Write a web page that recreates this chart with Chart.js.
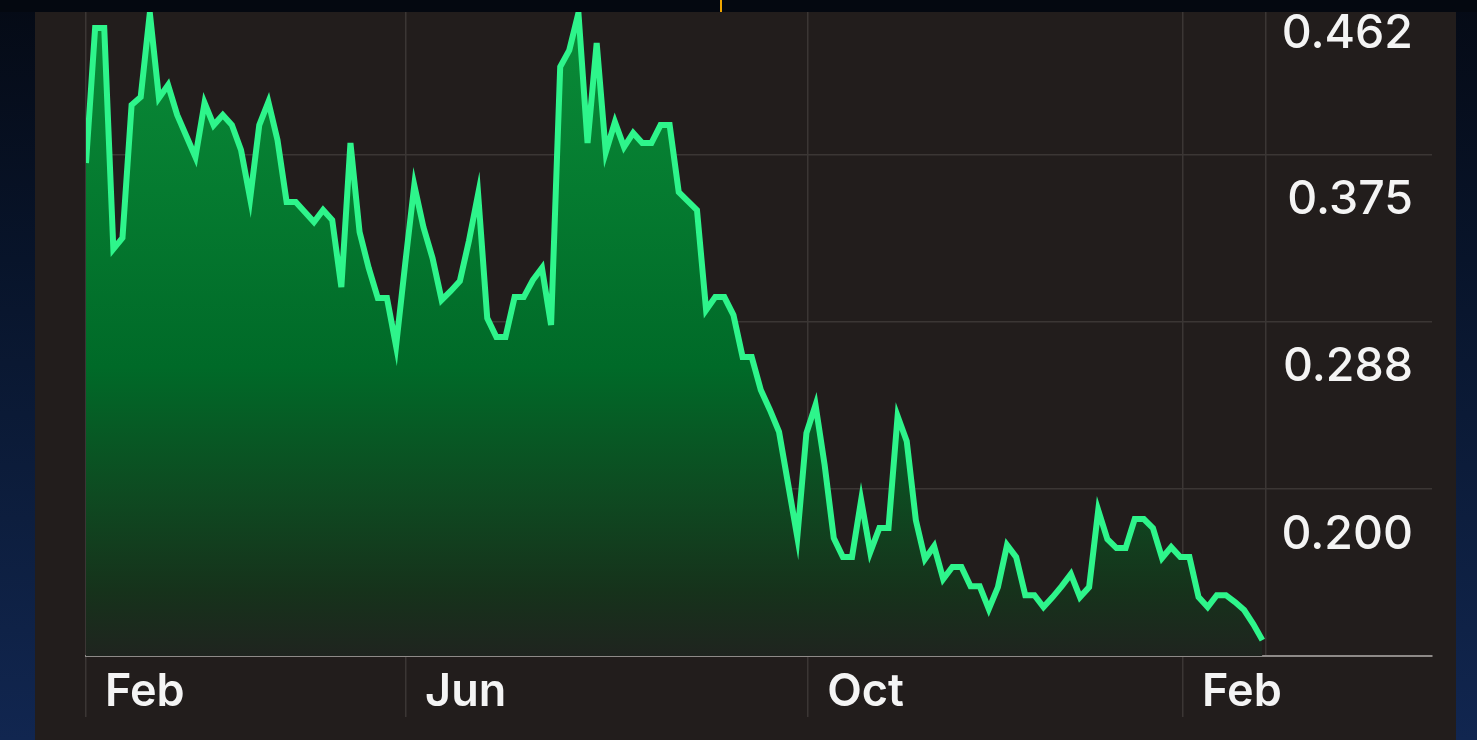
<!DOCTYPE html>
<html>
<head>
<meta charset="utf-8">
<script src="https://cdn.jsdelivr.net/npm/chart.js@4.4.1/dist/chart.umd.min.js"></script>
<style>
  html, body {
    margin: 0; padding: 0; width: 1477px; height: 740px; overflow: hidden;
    background: linear-gradient(180deg, #050a15 0%, #08142a 35%, #0d1e3e 70%, #112650 100%);
  }
  #topStrip { position: absolute; left: 0; top: 0; width: 1477px; height: 12px; background: #040810; }
  #mark { position: absolute; left: 720px; top: 0; width: 2px; height: 12px; background: #f0a500; }
  #panel { position: absolute; left: 35px; top: 12px; width: 1421px; height: 728px; background: #221d1c; }
  #chart { position: absolute; left: 0; top: 0; }
</style>
</head>
<body>
<div id="topStrip"></div>
<div id="mark"></div>
<div id="panel"></div>
<canvas id="chart" width="1477" height="740"></canvas>
<script>
// ===== Data =====
const prices = [
  0.3946, 0.4651, 0.4651, 0.3496, 0.3554, 0.4249, 0.4291, 0.4730, 0.4285, 0.4353,
  0.4197, 0.4087, 0.3977, 0.4260, 0.4144, 0.4197, 0.4144, 0.4014, 0.3760, 0.4144,
  0.4265, 0.4066, 0.3742, 0.3742, 0.3690, 0.3637, 0.3700, 0.3648, 0.3297, 0.4050,
  0.3585, 0.3397, 0.3240, 0.3240, 0.2989, 0.3418, 0.3830, 0.3611, 0.3449, 0.3230,
  0.3277, 0.3329, 0.3540, 0.3784, 0.3135, 0.3036, 0.3036, 0.3245, 0.3245, 0.3334,
  0.3397, 0.3099, 0.4448, 0.4536, 0.4730, 0.4050, 0.4573, 0.4003, 0.4160, 0.4029,
  0.4103, 0.4050, 0.4050, 0.4144, 0.4144, 0.3794, 0.3747, 0.3700, 0.3177, 0.3245,
  0.3245, 0.3151, 0.2932, 0.2932, 0.2759, 0.2655, 0.2540, 0.2266, 0.1991, 0.2534,
  0.2681, 0.2367, 0.1985, 0.1886, 0.1886, 0.2184, 0.1912, 0.2038, 0.2038, 0.2623,
  0.2492, 0.2079, 0.1876, 0.1943, 0.1771, 0.1834, 0.1834, 0.1734, 0.1734, 0.1614,
  0.1729, 0.1949, 0.1886, 0.1687, 0.1687, 0.1625, 0.1677, 0.1734, 0.1797, 0.1677,
  0.1729, 0.2131, 0.1980, 0.1933, 0.1933, 0.2085, 0.2085, 0.2038, 0.1881, 0.1938,
  0.1886, 0.1886, 0.1677, 0.1625, 0.1687, 0.1687, 0.1651, 0.1609, 0.1536, 0.1452
];
const monthLabels = ["Feb", "Jun", "Oct", "Feb", ""];
const monthPos = [0, 35.1, 79.2, 120.3, 129.4];   // sample index where each month starts
const priceLabels = [0.462, 0.375, 0.288, 0.200];
const gridLevels = [0.3988, 0.3115, 0.2242];
const Y_MIN = 0.1369, Y_MAX = 0.4735, X_MAX = 147.6;

const LINE = "#2ef58b";
const GRID = "#3b3634";
const TEXT = "#f4f4f4";

const points = prices.map((v, i) => ({ x: i, y: v }));

function fillGradient(c) {
  const area = c.chart.chartArea;
  if (!area) return "rgba(0,120,40,0.6)";
  const g = c.chart.ctx.createLinearGradient(0, area.top, 0, area.bottom);
  g.addColorStop(0, "#0a8c38");
  g.addColorStop(0.55, "#006a28");
  g.addColorStop(0.75, "#0e4a21");
  g.addColorStop(0.9, "#16321b");
  g.addColorStop(1, "#1f241f");
  return g;
}

// vertical axes take no room and add no edge padding
function flatY(s) {
  s.width = 0;
  s.paddingTop = 0;
  s.paddingBottom = 0;
}

new Chart(document.getElementById("chart"), {
  type: "line",
  data: {
    datasets: [{
      data: points,
      borderColor: LINE,
      borderWidth: 6,
      backgroundColor: fillGradient,
      fill: "start",
      tension: 0,
      pointRadius: 0,
    }],
  },
  options: {
    responsive: false,
    animation: false,
    layout: { padding: { left: 86, right: 45, top: 12, bottom: 0 } },
    plugins: { legend: { display: false }, tooltip: { enabled: false } },
    scales: {
      x: {
        type: "linear",
        min: 0,
        max: X_MAX,
        afterBuildTicks: (s) => { s.ticks = monthPos.map((v) => ({ value: v })); },
        afterFit: (s) => { s.height = 84; s.paddingLeft = 0; s.paddingRight = 0; },
        grid: {
          color: GRID,
          lineWidth: 1.5,
          tickLength: 61,
          tickColor: (c) => (c.index === monthPos.length - 1 ? "rgba(0,0,0,0)" : GRID),
        },
        border: { display: true, color: "#8e8a88", width: 2 },
        ticks: {
          autoSkip: false,
          maxRotation: 0,
          align: "start",
          labelOffset: 19,
          padding: -52,
          color: TEXT,
          font: { family: "Inter", size: 45, weight: "600" },
          callback: (v, i) => monthLabels[i],
        },
      },
      y: {
        type: "linear",
        position: "left",
        min: Y_MIN,
        max: Y_MAX,
        afterBuildTicks: (s) => { s.ticks = gridLevels.map((v) => ({ value: v })); },
        afterFit: flatY,
        ticks: { display: false },
        grid: { color: GRID, lineWidth: 1.5, drawTicks: false },
        border: { display: false },
      },
      yl: {
        type: "linear",
        position: "right",
        min: Y_MIN,
        max: Y_MAX,
        afterBuildTicks: (s) => { s.ticks = priceLabels.map((v) => ({ value: v })); },
        afterFit: flatY,
        grid: { display: false, drawTicks: false },
        border: { display: false },
        ticks: {
          mirror: true,
          padding: -19,
          color: TEXT,
          font: { family: "Inter", size: 46.5, weight: "500" },
          callback: (v) => v.toFixed(3),
        },
      },
    },
  },
});
</script>
</body>
</html>
